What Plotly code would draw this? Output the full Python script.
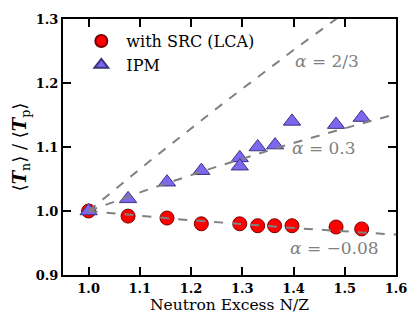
import numpy as np
import plotly.graph_objects as go

# %% data
src_x = [1.0, 1.077, 1.153, 1.22, 1.295, 1.33, 1.363, 1.397, 1.483, 1.533]
src_y = [1.0, 0.992, 0.989, 0.980, 0.980, 0.977, 0.977, 0.977, 0.975, 0.972]

ipm_x = [1.0, 1.077, 1.153, 1.22, 1.295, 1.295, 1.33, 1.364, 1.397, 1.483, 1.533]
ipm_y = [1.0, 1.019, 1.045, 1.063, 1.083, 1.070, 1.100, 1.103, 1.140, 1.135, 1.146]

alphas = [2 / 3, 0.3, -0.08]
alpha_labels = ['α = 2/3', 'α = 0.3', 'α = −0.08']
label_x = [1.465, 1.46, 1.48]
label_y = [1.235, 1.098, 0.942]

x_ticks = [1.0, 1.1, 1.2, 1.3, 1.4, 1.5, 1.6]
y_ticks = [0.9, 1.0, 1.1, 1.2, 1.3]

serif = 'DejaVu Serif'

# %% figure
fig = go.Figure()

fig.add_trace(go.Scatter(
    x=src_x, y=src_y, mode='markers', name='with SRC (LCA)',
    marker=dict(symbol='circle', size=14, color='#ff0000',
                line=dict(color='#7a0000', width=1))
))
fig.add_trace(go.Scatter(
    x=ipm_x, y=ipm_y, mode='markers', name='IPM',
    marker=dict(symbol='triangle-up', size=15, color='#7b68ee',
                line=dict(color='#3d3480', width=1))
))

# model curves <T_n>/<T_p> = (N/Z)^alpha
line_x = np.linspace(1.0, 1.6, 61)
for a in alphas:
    fig.add_trace(go.Scatter(
        x=line_x, y=line_x ** a, mode='lines', showlegend=False,
        line=dict(color='#808080', width=2, dash='dash'),
        hoverinfo='skip'
    ))

for txt, lx, ly in zip(alpha_labels, label_x, label_y):
    a_txt = '<i>α</i>' + txt[1:]
    fig.add_annotation(x=lx, y=ly, text=a_txt, showarrow=False,
                       font=dict(family=serif, size=17, color='#808080'))

axis_style = dict(
    showgrid=False, zeroline=False, showline=True, linecolor='black',
    linewidth=2, mirror='ticks', ticks='inside', ticklen=8, tickwidth=2,
    tickcolor='black', tickfont=dict(family=serif, size=13, color='black'),
)

fig.update_xaxes(
    range=[0.95, 1.6], tickvals=x_ticks,
    ticktext=[f'<b>{v:.1f}</b>' for v in x_ticks],
    title=dict(text='Neutron Excess N/Z', font=dict(family=serif, size=15.5, color='black'),
               standoff=4),
    **axis_style
)
fig.update_yaxes(
    range=[0.9, 1.3], tickvals=y_ticks,
    ticktext=[f'<b>{v:.1f}</b>' for v in y_ticks],
    title=dict(text='⟨<b><i>T</i></b><sub>n</sub>⟩ / ⟨<b><i>T</i></b><sub>p</sub>⟩',
               font=dict(family=serif, size=18, color='black'), standoff=4),
    **axis_style
)

fig.update_layout(
    width=419, height=325, autosize=False,
    margin=dict(l=63, r=15, t=18, b=50),
    plot_bgcolor='white', paper_bgcolor='white',
    legend=dict(x=0.04, y=0.98, xanchor='left', yanchor='top',
                bgcolor='rgba(0,0,0,0)', font=dict(family=serif, size=16, color='black'),
                itemsizing='constant', itemwidth=40, tracegroupgap=0),
)

fig.write_html(
    "out.html", config={'displayModeBar': False},
    post_script=("document.documentElement.style.overflow='hidden';"
                 "document.body.style.overflow='hidden';"
                 "document.body.style.margin='0';")
)
